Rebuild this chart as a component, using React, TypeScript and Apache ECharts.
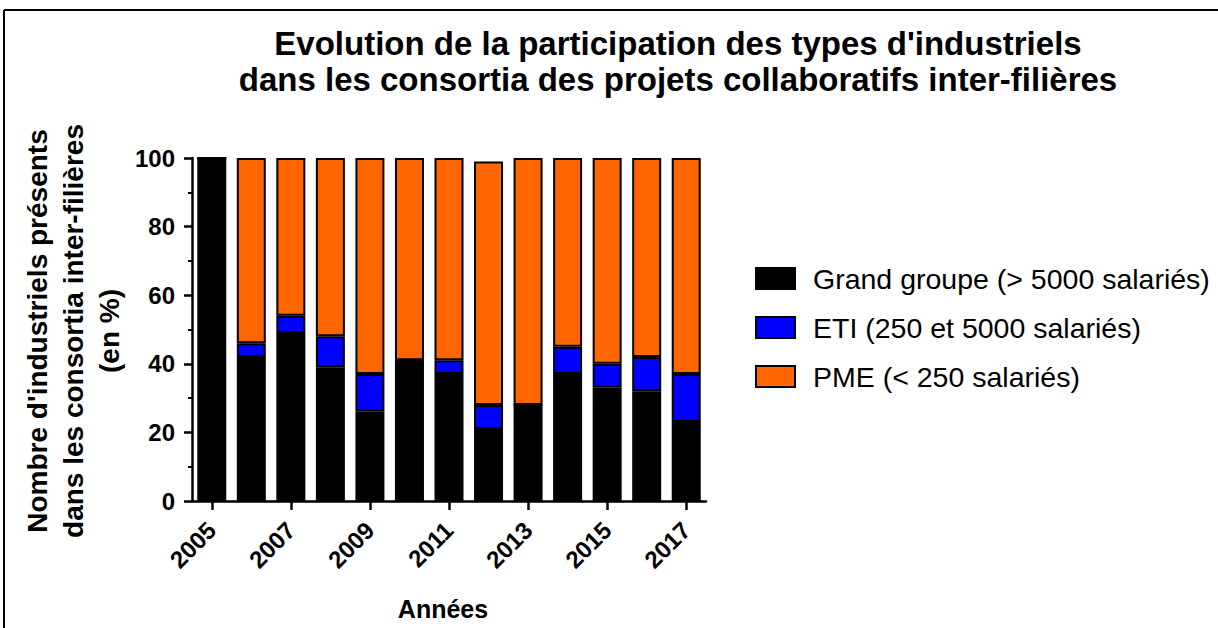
import React, { useEffect, useRef } from "react";
import * as echarts from "echarts";

const years = ["2005","2006","2007","2008","2009","2010","2011","2012","2013","2014","2015","2016","2017"];
const grandGroupe = [100, 42, 49, 39, 26, 41, 37, 21, 28, 37, 33, 32, 23];
const eti = [0, 4, 5, 9, 11, 0, 4, 7, 0, 8, 7, 10, 14];
const pme = [0, 54, 46, 52, 63, 59, 59, 71, 72, 55, 60, 58, 63];
const yTicks = [0, 20, 40, 60, 80, 100];

const seriesNames = [
  "Grand groupe (> 5000 salariés)",
  "ETI (250 et 5000 salariés)",
  "PME (< 250 salariés)",
];
const colors = ["#000000", "#0000FF", "#FF6600"];

const FONT = "'Liberation Sans', Arial, Helvetica, sans-serif";

export default function App() {
  const ref = useRef<HTMLDivElement>(null);
  useEffect(() => {
    if (!ref.current) return;
    const chart = echarts.init(ref.current, null, { renderer: "svg" });
    const data = [grandGroupe, eti, pme];
    chart.setOption({
      animation: false,
      backgroundColor: "#ffffff",
      title: {
        text: "Evolution de la participation des types d'industriels\ndans les consortia des projets collaboratifs inter-filières",
        left: 678,
        top: 25,
        padding: 0,
        textAlign: "center",
        textStyle: {
          fontFamily: FONT,
          fontWeight: "bold",
          fontSize: 33,
          lineHeight: 36,
          color: "#000",
        },
      },
      legend: {
        orient: "vertical",
        left: 750,
        top: 259,
        itemWidth: 39,
        itemHeight: 21,
        itemGap: 20,
        icon: "rect",
        data: seriesNames,
        textStyle: { fontFamily: FONT, fontSize: 28.5, color: "#000", padding: [0, 0, 0, 13] },
      },
      grid: { left: 192, right: 512, top: 158, bottom: 127, containLabel: false },
      xAxis: {
        type: "category",
        data: years,
        boundaryGap: true,
        name: "Années",
        nameLocation: "middle",
        nameGap: 95,
        nameTextStyle: { fontFamily: FONT, fontWeight: "bold", fontSize: 25, color: "#000", padding: [0, 12, 0, 0] },
        axisLine: { lineStyle: { color: "#000", width: 2.5 } },
        axisTick: { show: true, interval: 1, alignWithLabel: true, length: 9, lineStyle: { color: "#000", width: 2.5 } },
        axisLabel: {
          interval: 1,
          rotate: 45,
          margin: 25,
          fontFamily: FONT,
          fontWeight: "bold",
          fontSize: 24,
          color: "#000",
        },
        splitLine: { show: false },
      },
      yAxis: {
        type: "value",
        min: 0,
        max: 100,
        interval: 20,
        axisLine: { show: true, lineStyle: { color: "#000", width: 2.5 } },
        axisTick: { show: true, length: 8, lineStyle: { color: "#000", width: 2.5 } },
        minorTick: { show: true, splitNumber: 2, length: 4, lineStyle: { color: "#000", width: 2 } },
        axisLabel: {
          margin: 17,
          fontFamily: FONT,
          fontWeight: "bold",
          fontSize: 24,
          color: "#000",
          formatter: (v: number) => (yTicks.includes(v) ? String(v) : ""),
        },
        splitLine: { show: false },
      },
      series: seriesNames.map((name, i) => ({
        name,
        type: "bar",
        stack: "total",
        barWidth: 29,
        data: data[i],
        itemStyle: { color: colors[i], borderColor: "#000", borderWidth: 2 },
      })),
      graphic: [
        {
          type: "line",
          shape: { x1: 4, y1: 10, x2: 1218, y2: 10 },
          style: { stroke: "#000", lineWidth: 2 },
        },
        {
          type: "line",
          shape: { x1: 4, y1: 10, x2: 4, y2: 628 },
          style: { stroke: "#000", lineWidth: 2 },
        },
        {
          type: "text",
          x: 73,
          y: 331,
          rotation: Math.PI / 2,
          style: {
            text: "Nombre d'industriels présents\ndans les consortia inter-filières\n(en %)",
            fontFamily: FONT,
            fontWeight: "bold",
            fontSize: 28,
            lineHeight: 36,
            fill: "#000",
            align: "center",
            verticalAlign: "middle",
          },
        },
      ],
    });
    return () => chart.dispose();
  }, []);
  return (
    <div
      ref={ref}
      style={{ position: "absolute", left: 0, top: 0, width: 1218, height: 628 }}
    />
  );
}
